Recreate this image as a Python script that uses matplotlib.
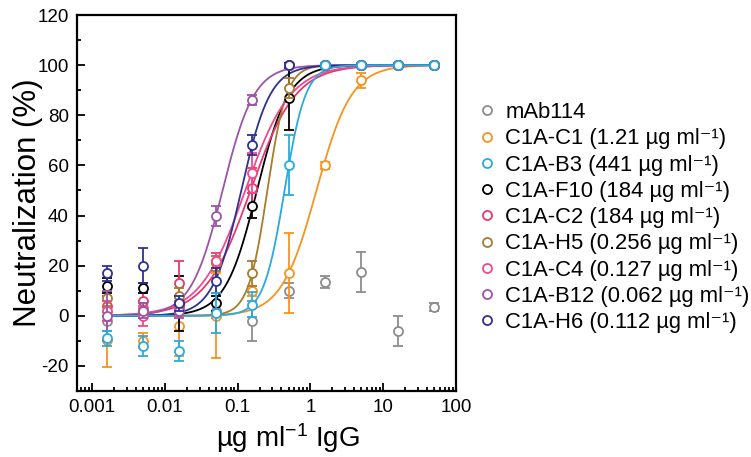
import numpy as np
import matplotlib
matplotlib.use("Agg")
import matplotlib.pyplot as plt
from matplotlib.lines import Line2D
from matplotlib.ticker import FixedLocator, LogLocator, MultipleLocator, FuncFormatter, NullFormatter

plt.rcParams['font.family'] = ['Liberation Sans', 'DejaVu Sans']
plt.rcParams['mathtext.fontset'] = 'custom'
plt.rcParams['mathtext.rm'] = 'Liberation Sans'
plt.rcParams['mathtext.it'] = 'Liberation Sans'
plt.rcParams['mathtext.bf'] = 'Liberation Sans'
plt.rcParams['axes.unicode_minus'] = False

# half-log dilution series (ug/ml)
conc = [0.00158, 0.005, 0.0158, 0.05, 0.158, 0.5, 1.58, 5, 15.8, 50]

names = ['mAb114', 'C1A-C1', 'C1A-B3', 'C1A-F10', 'C1A-C2',
         'C1A-H5', 'C1A-C4', 'C1A-B12', 'C1A-H6']
label_ic50 = [None, '1.21', '441', '184', '184', '0.256', '0.127', '0.062', '0.112']
colors = ['#8c8c8c', '#f7931e', '#29aae1', '#000000', '#e8386d',
          '#a67c2e', '#ee4a8e', '#9b55a8', '#2e3190']

mab114 = [-2, 3, 4, 2, -2, 10, 13.5, 17.5, -6, 3.5]
mab114_err = [4, 3, 3, 3, 8, 3, 2.5, 8, 6, 1.5]
c1 = [-9.5, -10, -4, 0, 10, 17, 60, 94, 100, 100]
c1_err = [11, 3, 12, 17, 2, 16, 1.5, 3, 0.5, 0.5]
b3 = [-9, -12, -14, 1, 4.5, 60, 100, 100, 100, 100]
b3_err = [3, 4, 4, 8, 5, 12, 0.8, 0.8, 0.8, 0.8]
f10 = [12, 11, 5, 5, 44, 87, 100, 100, 100, 100]
f10_err = [3, 2, 11, 3, 5, 13, 0.5, 0.5, 0.5, 0.5]
c2 = [4, 6, 13, 22, 51, 100, 100, 100, 100, 100]
c2_err = [4, 5, 9, 3, 8, 1, 0.5, 0.5, 0.5, 0.5]
h5 = [7, 2, 8, 21, 17, 91, 100, 100, 100, 100]
h5_err = [3, 3, 3, 3, 5, 4, 0.5, 0.5, 0.5, 0.5]
c4 = [2, 0, 3, 22, 57, 100, 100, 100, 100, 100]
c4_err = [4, 4, 3, 3, 8, 1, 0.5, 0.5, 0.5, 0.5]
b12 = [0, 2, 2, 40, 86, 100, 100, 100, 100, 100]
b12_err = [10, 3, 3, 4, 2, 1, 0.5, 0.5, 0.5, 0.5]
h6 = [17, 20, 5, 14, 68, 100, 100, 100, 100, 100]
h6_err = [3, 7, 3, 5, 4, 1, 0.5, 0.5, 0.5, 0.5]

values = [mab114, c1, b3, f10, c2, h5, c4, b12, h6]
errors = [mab114_err, c1_err, b3_err, f10_err, c2_err, h5_err, c4_err, b12_err, h6_err]

# fitted curve parameters (IC50 ug/ml, Hill slope); mAb114 not fitted
fit_ic50 = [None, 1.21, 0.441, 0.184, 0.15, 0.256, 0.127, 0.062, 0.112]
fit_hill = [None, 1.8, 3.0, 2.0, 1.4, 3.3, 1.4, 2.0, 2.2]

# draw order (B3 on top)
order = [0, 1, 3, 4, 5, 6, 7, 8, 2]

fig = plt.figure(figsize=(7.51, 4.57), dpi=100)
ax = fig.add_axes([77 / 751, 1 - 391 / 457, (456 - 77) / 751, (391 - 15) / 457])

xs = np.logspace(np.log10(conc[0]), np.log10(conc[-1]), 400)
for k, i in enumerate(order):
    c = colors[i]
    if fit_ic50[i] is not None:
        ys = 100.0 / (1.0 + (fit_ic50[i] / xs) ** fit_hill[i])
        ax.plot(xs, ys, color=c, lw=1.3, zorder=2 + k * 0.1)
    ax.errorbar(conc, values[i], yerr=errors[i], fmt='o', color=c,
                mfc='white', mec=c, ms=6.5, mew=1.3, elinewidth=1.3,
                capsize=3.5, capthick=1.3, zorder=3 + k * 0.1)

ax.set_xscale('log')
ax.set_xlim(0.00062, 100)
ax.set_ylim(-30, 120)
ax.xaxis.set_major_locator(FixedLocator([0.001, 0.01, 0.1, 1, 10, 100]))
ax.xaxis.set_major_formatter(FuncFormatter(lambda v, p: '%g' % v))
ax.xaxis.set_minor_locator(LogLocator(base=10, subs=np.arange(2, 10)))
ax.xaxis.set_minor_formatter(NullFormatter())
ax.yaxis.set_major_locator(FixedLocator([-20, 0, 20, 40, 60, 80, 100, 120]))
ax.yaxis.set_minor_locator(MultipleLocator(10))

ax.tick_params(which='both', direction='in', width=1.3, labelsize=13.5,
               top=False, right=False)
ax.tick_params(which='major', length=5.5, pad=6)
ax.tick_params(which='minor', length=3)
for s in ax.spines.values():
    s.set_linewidth(1.6)

ax.set_ylabel('Neutralization (%)', fontsize=22.5)
ax.yaxis.set_label_coords(-0.09, 0.5)
ax.set_xlabel('µg ml$^{-1}$ IgG', fontsize=20)
ax.xaxis.set_label_coords(0.557, -0.08)

handles = []
labels = []
for i, n in enumerate(names):
    handles.append(Line2D([], [], ls='none', marker='o', mfc='white',
                          mec=colors[i], ms=6.5, mew=1.3))
    if label_ic50[i] is None:
        labels.append(n)
    else:
        labels.append('%s (%s µg ml⁻¹)' % (n, label_ic50[i]))

fig.legend(handles, labels, loc='upper left', bbox_to_anchor=(478 / 751, 1 - 102 / 457),
           frameon=False, fontsize=15.8, handlelength=0.8, handletextpad=0.45,
           labelspacing=0.24, borderpad=0, borderaxespad=0)

fig.savefig('out.png', dpi=100)
